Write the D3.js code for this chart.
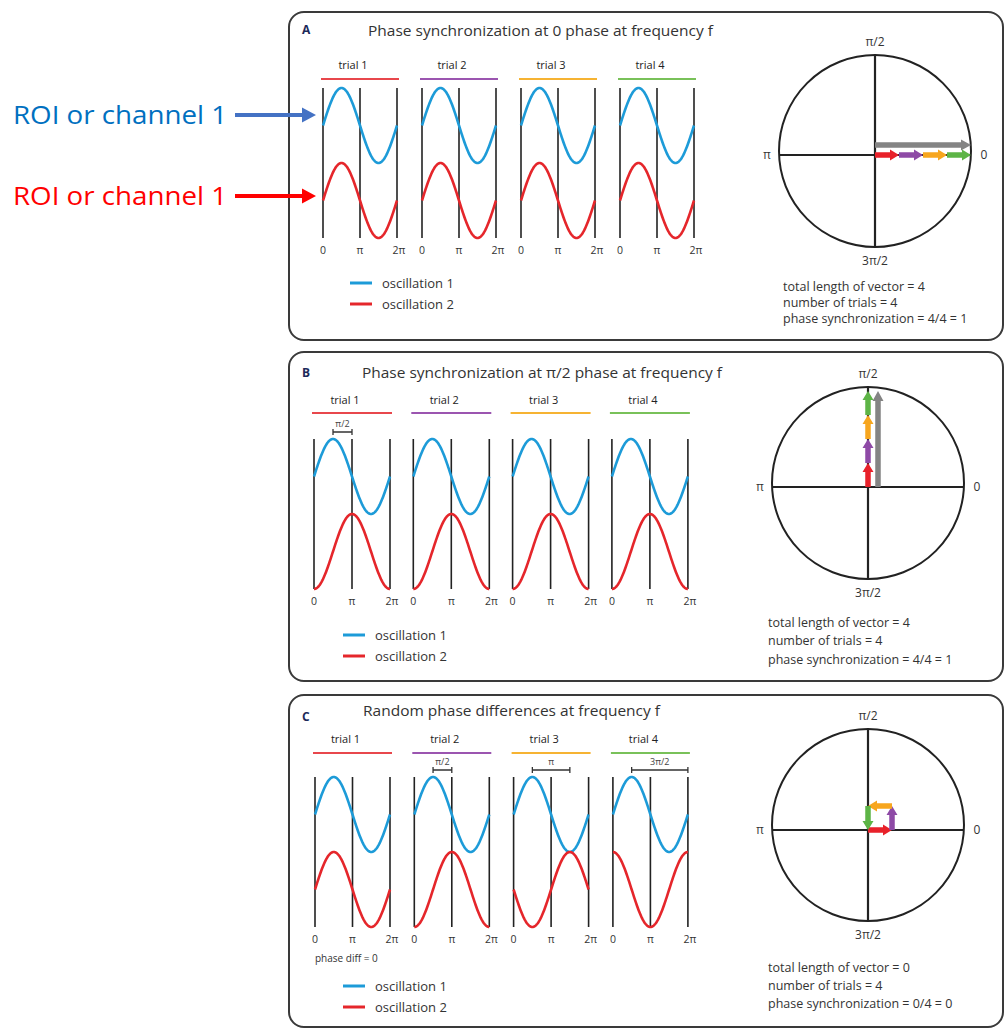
<!DOCTYPE html>
<html><head><meta charset="utf-8">
<script src="https://cdn.jsdelivr.net/npm/d3@7"></script>
<style>
html,body{margin:0;padding:0;background:#fff;}
svg text{font-family:"Open Sans","Noto Sans",sans-serif;}
</style></head>
<body><svg id="c" width="1005" height="1031"></svg>
<script>
// ---------- data ----------
const panelLetters = ["A", "B", "C"];
const panelTitles = [
  "Phase synchronization at 0 phase at frequency f",
  "Phase synchronization at \u03c0/2 phase at frequency f",
  "Random phase differences at frequency f"
];
const trialNames = ["trial 1", "trial 2", "trial 3", "trial 4"];
const trialColors = ["#e8474c", "#9b55b0", "#f6b332", "#79c159"];
const arrowColors = ["#e8212a", "#8e4aa6", "#f7a61e", "#5db446"];
// phase difference of oscillation 2 relative to oscillation 1, in units of pi
const phaseDiffA = [0, 0, 0, 0];
const phaseDiffB = [0.5, 0.5, 0.5, 0.5];
const phaseDiffC = [0, 0.5, 1, 1.5];
const bracketLabelsA = [null, null, null, null];
const bracketLabelsB = ["\u03c0/2", null, null, null];
const bracketLabelsC = [null, "\u03c0/2", "\u03c0", "3\u03c0/2"];
const tickLabels = ["0", "\u03c0", "2\u03c0"];
const tickValues = [0, 1, 2]; // units of pi
const circleLabels = ["0", "\u03c0/2", "\u03c0", "3\u03c0/2"];
const circleAngles = [0, 0.5, 1, 1.5];
const legendLabels = ["oscillation 1", "oscillation 2"];
const legendColors = ["#1d9bd8", "#e5262b"];
const statsA = ["total length of vector = 4", "number of trials = 4", "phase synchronization = 4/4 = 1"];
const statsB = ["total length of vector = 4", "number of trials = 4", "phase synchronization = 4/4 = 1"];
const statsC = ["total length of vector = 0", "number of trials = 4", "phase synchronization = 0/4 = 0"];
const roiLabels = ["ROI or channel 1", "ROI or channel 1"];
const roiColors = ["#0070c0", "#ff0000"];
const roiArrowColors = ["#4472c4", "#ff0000"];

const phaseDiffs = [phaseDiffA, phaseDiffB, phaseDiffC];
const bracketLabels = [bracketLabelsA, bracketLabelsB, bracketLabelsC];
const stats = [statsA, statsB, statsC];

// ---------- layout ----------
const layout = [
  {top:12, bottom:340, letterY:34, titleX:368, titleY:36, titleW:345, labelY:69, lineY:79,
   x0:323, step:99, W:74, waveTop:88, tickY:254, legY:[283,304], legX:350,
   cx:875, cy:151, axisY:155, statsX:783, statsY:[291,307,323]},
  {top:352, bottom:681, letterY:377, titleX:362, titleY:378, titleW:360, labelY:404, lineY:413,
   x0:314, step:99.3, W:76, waveTop:439, tickY:605, legY:[635,656], legX:343,
   cx:868, cy:483, axisY:487, statsX:768, statsY:[627,645,664]},
  {top:695, bottom:1027, letterY:721, titleX:363, titleY:716, titleW:297, labelY:743, lineY:753,
   x0:315, step:99.3, W:75, waveTop:777, tickY:943, legY:[986,1007], legX:343,
   cx:868, cy:825, axisY:830, statsX:768, statsY:[972,990,1008], phaseDiffText:"phase diff = 0", phaseDiffY:962}
];
const R = 96, AMP = 37.5;

const svg = d3.select("#c");
const PI = Math.PI;

function arrowPath(x1, y1, x2, y2, shaft, headW, headL) {
  const dx = x2 - x1, dy = y2 - y1, len = Math.hypot(dx, dy);
  const ux = dx / len, uy = dy / len, nx = -uy, ny = ux;
  const bx = x2 - ux * headL, by = y2 - uy * headL;
  const s = shaft / 2, h = headW / 2;
  const pts = [
    [x1 + nx*s, y1 + ny*s], [bx + nx*s, by + ny*s], [bx + nx*h, by + ny*h], [x2, y2],
    [bx - nx*h, by - ny*h], [bx - nx*s, by - ny*s], [x1 - nx*s, y1 - ny*s]
  ];
  return "M" + pts.map(p => p[0].toFixed(2) + "," + p[1].toFixed(2)).join("L") + "Z";
}

layout.forEach((L, pi) => {
  const g = svg.append("g");
  // box
  g.append("rect").attr("x", 289).attr("y", L.top).attr("width", 1003 - 289).attr("height", L.bottom - L.top)
    .attr("rx", 15).attr("fill", "none").attr("stroke", "#3a3a3a").attr("stroke-width", 2);
  g.append("text").attr("x", 302).attr("y", L.letterY).text(panelLetters[pi])
    .attr("font-size", 12).attr("font-weight", "bold").attr("fill", "#1c2a5a");
  g.append("text").attr("x", L.titleX).attr("y", L.titleY).text(panelTitles[pi])
    .attr("font-size", 15).attr("fill", "#333").attr("textLength", L.titleW).attr("lengthAdjust", "spacingAndGlyphs");

  const yBlue = d3.scaleLinear().domain([-1, 1]).range([L.waveTop + 2*AMP, L.waveTop]);
  const yRed = d3.scaleLinear().domain([-1, 1]).range([L.waveTop + 4*AMP, L.waveTop + 2*AMP]);

  trialNames.forEach((name, ti) => {
    const x0 = L.x0 + ti * L.step;
    const x = d3.scaleLinear().domain([0, 2*PI]).range([x0, x0 + L.W]);
    const d = phaseDiffs[pi][ti] * PI;
    // label and colored line
    g.append("text").attr("x", x0 + L.W/2 - 7).attr("y", L.labelY).attr("text-anchor", "middle")
      .attr("font-size", 11).attr("fill", "#222").text(name);
    g.append("line").attr("x1", x0 - 2).attr("x2", x0 + L.W + 2).attr("y1", L.lineY).attr("y2", L.lineY)
      .attr("stroke", trialColors[ti]).attr("stroke-width", 2);
    // vertical guide lines
    tickValues.forEach((tv, k) => {
      g.append("line").attr("x1", x(tv*PI)).attr("x2", x(tv*PI)).attr("y1", L.waveTop).attr("y2", L.waveTop + 4*AMP)
        .attr("stroke", "#222").attr("stroke-width", 1.6);
      g.append("text").attr("x", x(tv*PI) + (k === 2 ? 2 : 0)).attr("y", L.tickY).attr("text-anchor", "middle")
        .attr("font-size", 10.5).attr("fill", "#333").text(tickLabels[k]);
    });
    const ts = d3.range(0, 2*PI + 1e-9, PI/60);
    g.append("path").attr("d", d3.line().x(t => x(t)).y(t => yBlue(Math.sin(t)))(ts))
      .attr("fill", "none").attr("stroke", legendColors[0]).attr("stroke-width", 2.6);
    g.append("path").attr("d", d3.line().x(t => x(t)).y(t => yRed(Math.sin(t - d)))(ts))
      .attr("fill", "none").attr("stroke", legendColors[1]).attr("stroke-width", 2.6);
    // bracket
    const bl = bracketLabels[pi][ti];
    if (bl) {
      const by = L.waveTop - 7;
      const bx1 = x(PI/2), bx2 = x(PI/2 + d);
      g.append("path").attr("d", `M${bx1},${by-3}V${by+3}M${bx1},${by}H${bx2}M${bx2},${by-3}V${by+3}`)
        .attr("fill", "none").attr("stroke", "#333").attr("stroke-width", 1.3);
      g.append("text").attr("x", (bx1 + bx2)/2).attr("y", by - 5).attr("text-anchor", "middle")
        .attr("font-size", 9).attr("fill", "#444").text(bl);
    }
  });
  if (L.phaseDiffText) {
    g.append("text").attr("x", L.x0).attr("y", L.phaseDiffY).attr("font-size", 10).attr("fill", "#333").text(L.phaseDiffText);
  }
  // legend
  legendLabels.forEach((lab, k) => {
    g.append("line").attr("x1", L.legX).attr("x2", L.legX + 22).attr("y1", L.legY[k]).attr("y2", L.legY[k])
      .attr("stroke", legendColors[k]).attr("stroke-width", 3);
    g.append("text").attr("x", L.legX + 32).attr("y", L.legY[k] + 5).attr("font-size", 13).attr("fill", "#333").text(lab);
  });

  // circle
  g.append("circle").attr("cx", L.cx).attr("cy", L.cy).attr("r", R).attr("fill", "none").attr("stroke", "#222").attr("stroke-width", 2);
  const dyAxis = L.axisY - L.cy;
  const halfW = Math.sqrt(R*R - dyAxis*dyAxis);
  g.append("line").attr("x1", L.cx - halfW).attr("x2", L.cx + halfW).attr("y1", L.axisY).attr("y2", L.axisY)
    .attr("stroke", "#222").attr("stroke-width", 2.2);
  g.append("line").attr("x1", L.cx).attr("x2", L.cx).attr("y1", L.cy - R).attr("y2", L.cy + R)
    .attr("stroke", "#222").attr("stroke-width", 2.2);
  const labPos = [[L.cx + R + 13, L.axisY + 4, "middle"], [L.cx, L.cy - R - 9, "middle"], [L.cx - R - 12, L.axisY + 4, "middle"], [L.cx, L.cy + R + 18, "middle"]];
  circleLabels.forEach((lab, k) => {
    g.append("text").attr("x", labPos[k][0]).attr("y", labPos[k][1]).attr("text-anchor", labPos[k][2])
      .attr("font-size", 12).attr("fill", "#333").text(lab);
  });
  // vectors: unit length per trial, scaled so 4 units = radius
  const vs = d3.scaleLinear().domain([0, 4]).range([0, R]);
  const pd = phaseDiffs[pi];
  let sx = 0, sy = 0;
  const pts = [[0, 0]];
  pd.forEach(p => { sx += Math.cos(p*PI); sy += Math.sin(p*PI); pts.push([sx, sy]); });
  const total = Math.hypot(sx, sy);
  if (total > 1e-6) {
    const ang = Math.atan2(sy, sx);
    const off = 10;
    const px = Math.sin(ang) * off, py = Math.cos(ang) * off;
    const x1 = L.cx + px, y1 = L.axisY - py;
    const x2 = x1 + vs(total) * Math.cos(ang), y2 = y1 - vs(total) * Math.sin(ang);
    g.append("path").attr("d", arrowPath(x1, y1, x2, y2, 5.5, 11, 10)).attr("fill", "#848484");
  }
  for (let k = 0; k < 4; k++) {
    const a = pts[k], b = pts[k+1];
    const x1 = L.cx + vs(a[0]), y1 = L.axisY - vs(a[1]);
    const x2 = L.cx + vs(b[0]), y2 = L.axisY - vs(b[1]);
    g.append("path").attr("d", arrowPath(x1, y1, x2, y2, 5.5, 11, 9)).attr("fill", arrowColors[k]);
  }
  stats[pi].forEach((s, k) => {
    g.append("text").attr("x", L.statsX).attr("y", L.statsY[k]).attr("font-size", 12.5).attr("fill", "#333").text(s);
  });
});

// ROI annotations
const roiY = [115, 196];
roiLabels.forEach((lab, k) => {
  svg.append("text").attr("x", 13).attr("y", roiY[k] + 9).attr("font-size", 25).attr("fill", roiColors[k])
    .attr("font-family", "Carlito, 'Liberation Sans', sans-serif").attr("textLength", 214).attr("lengthAdjust", "spacingAndGlyphs").text(lab);
  svg.append("path").attr("d", arrowPath(235, roiY[k], 316, roiY[k], 4, 15, 14)).attr("fill", roiArrowColors[k]);
});
</script></body></html>
